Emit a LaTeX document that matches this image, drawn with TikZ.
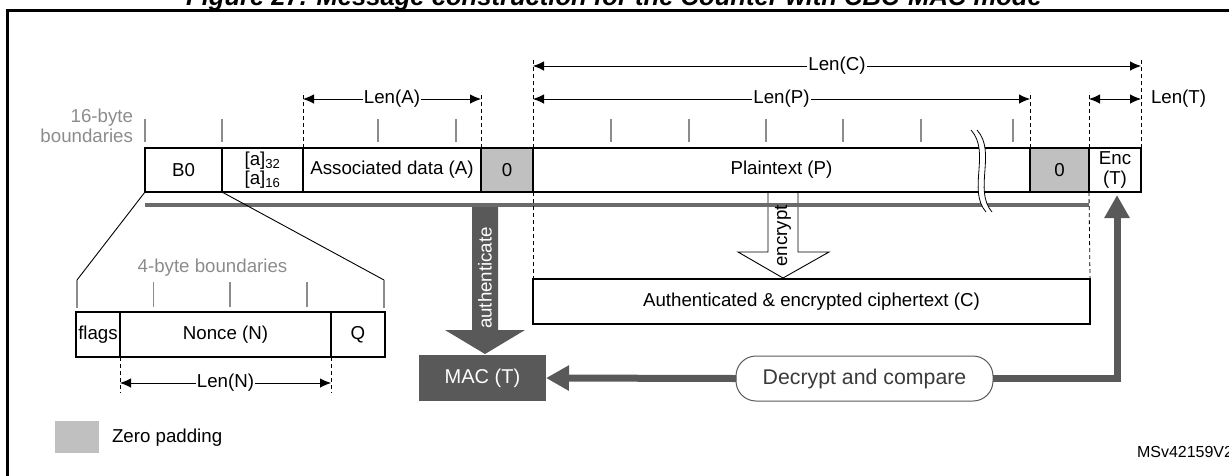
\documentclass[tikz,border=0pt]{standalone}
\usepackage{fontspec}
\setmainfont{Liberation Sans}
\usetikzlibrary{arrows.meta}
\definecolor{tickgray}{HTML}{8C8C8C}
\definecolor{padgray}{HTML}{C0C0C0}
\definecolor{darkfill}{HTML}{595959}
\definecolor{bargray}{HTML}{6A6A6A}
\definecolor{dectext}{HTML}{3A3A3A}
\begin{document}
\begin{tikzpicture}[x=1pt,y=-1pt,
  every node/.style={font=\fontsize{18.7}{19.5}\selectfont, inner sep=0pt, outer sep=0pt},
  cell/.style={draw, line width=1.8, minimum height=44, anchor=center, align=center},
  padcell/.style={cell, fill=padgray},
  tickline/.style={draw=tickgray, line width=1.3},
  dimline/.style={draw, line width=0.9, {Latex[length=11pt,width=9.5pt]}-{Latex[length=11pt,width=9.5pt]}},
  guide/.style={draw, line width=0.8, dash pattern=on 4pt off 3pt},
  dimlabel/.style={fill=white, inner xsep=1pt},
  bigarrow/.style={draw=darkfill, line width=7, -{Triangle[length=23pt,width=24pt]}}
]
\useasboundingbox (0,0) rectangle (1229,475);

% title (clipped by page) and frame
\node[anchor=base, font={\fontsize{25.6}{27}\selectfont\bfseries\itshape}] (title) at (614,5.5)
  {Figure 27. Message construction for the Counter with CBC-MAC mode};
\draw[line width=2.5] (7.5,490) -- (7.5,10.5) -- (1250,10.5);

% 16-byte boundary ticks
\node[anchor=east, text=tickgray, align=right] (lab16) at (133,126) {16-byte\\boundaries};
\foreach \x in {145,222,378,456,611,689,766,843,921,1013}
  \draw[tickline] (\x,119) -- (\x,142);

% main row
\node[cell, minimum width=77] (b0) at (183.5,170) {B0};
\node[cell, minimum width=81] (ablk) at (262.5,170) {{[a]}\textsubscript{32}\\{[a]}\textsubscript{16}};
\node[cell, minimum width=178] (assoc) at (392,170) {Associated data (A)};
\node[padcell, minimum width=52] (zero1) at (507,170) {0};
\node[cell, minimum width=497] (plain) at (781.5,170) {Plaintext (P)};
\node[padcell, minimum width=59] (zero2) at (1059.5,170) {0};
\node[cell, minimum width=52] (enc) at (1115,170) {Enc\\(T)};

% encrypt arrow (hollow)
\filldraw[fill=white, draw=black, line width=0.9]
  (768,193) -- (768,252) -- (738,252) -- (783,278) -- (829,252) -- (798,252) -- (798,193);

% gray bar
\coordinate (barL) at (145,205);
\coordinate (barR) at (1089,205);
\draw[bargray, line width=4.5] (barL) -- (barR);
\node[rotate=90] (enclbl) at (783,236) {encrypt};

% wavy break
\fill[white] (971,130) .. controls (991,152) and (967,190) .. (986,212)
  -- (992,212) .. controls (973,190) and (997,152) .. (977,130) -- cycle;
\draw[line width=0.8] (971,130) .. controls (991,152) and (967,190) .. (986,212);
\draw[line width=0.8] (977,130) .. controls (997,152) and (973,190) .. (992,212);

% guides
\draw[guide] (assoc.north west) -- ++(0,-56);
\draw[guide] (assoc.north east) -- ++(0,-56);
\draw[guide] (plain.north west) -- ++(0,-88);
\draw[guide] (plain.north east) -- ++(0,-56);
\draw[guide] (enc.north west) -- ++(0,-56);
\draw[guide] (enc.north east) -- ++(0,-88);

% dimension arrows
\draw[dimline] (assoc.north west |- 0,99) -- node[dimlabel] (lenA) {Len(A)} (assoc.north east |- 0,99);
\draw[dimline] (plain.north west |- 0,66) -- node[dimlabel] (lenC) {Len(C)} (enc.north east |- 0,66);
\draw[dimline] (plain.north west |- 0,99) -- node[dimlabel] (lenP) {Len(P)} (plain.north east |- 0,99);
\draw[dimline] (enc.north west |- 0,99) -- (enc.north east |- 0,99);
\node[anchor=west] (lenT) at (1151,99) {Len(T)};

% ciphertext
\node[cell, minimum width=557, minimum height=45] (ciph) at (811.5,301.5) {Authenticated \& encrypted ciphertext (C)};
\draw[guide] (plain.south west) -- (ciph.north west);
\draw[guide] (enc.south west) -- (ciph.north east);

% authenticate arrow
\fill[darkfill] (472,207) -- (472,330) -- (445,330) -- (485,354) -- (525,330) -- (498,330) -- (498,207) -- cycle;
\node[rotate=90, text=white] (authlbl) at (485,278) {authenticate};

% MAC and decrypt
\node[fill=darkfill, text=white, minimum width=127, minimum height=46, font=\fontsize{20}{21}\selectfont] (mac) at (482.5,378) {MAC (T)};
\node[draw=darkfill, line width=1, rounded corners=20, minimum width=257, minimum height=45, text=dectext, font=\fontsize{21.3}{22}\selectfont] (dec) at (864.5,378.5) {Decrypt and compare};
\draw[bigarrow] (dec.west) -- (mac.east);
\draw[bigarrow] (dec.east) -| ([xshift=2pt,yshift=-3pt]enc.south);

% nonce expansion
\node[text=tickgray] (lab4) at (212.5,268) {4-byte boundaries};
\node[cell, minimum width=44, minimum height=45] (flags) at (98,334.5) {flags};
\node[cell, minimum width=211, minimum height=45] (nonce) at (225.5,334.5) {Nonce (N)};
\node[cell, minimum width=54, minimum height=45] (q) at (358,334.5) {Q};
\coordinate (expL) at (77,280);
\coordinate (expR) at (384,280);
\draw[line width=0.9] (b0.south west) -- (expL);
\draw[line width=0.9] (ablk.south west) -- (expR);
\draw[tickline] (expL) -- (77,308);
\draw[tickline] (expR) -- (384,308);
\foreach \x in {153.5,230,307}
  \draw[tickline] (\x,282) -- (\x,307);
\draw[guide] (nonce.south west) -- ++(0,36);
\draw[guide] (nonce.south east) -- ++(0,36);
\draw[dimline] (nonce.south west |- 0,383) -- node[dimlabel] (lenN) {Len(N)} (nonce.south east |- 0,383);

% legend
\node[fill=padgray, minimum width=44, minimum height=32] (zp) at (77,437) {};
\node[anchor=west] (zptext) at (112,438) {Zero padding};
\node[anchor=west, font=\fontsize{16}{18}\selectfont] (msv) at (1137,452) {MSv42159V2};
\end{tikzpicture}
\end{document}
